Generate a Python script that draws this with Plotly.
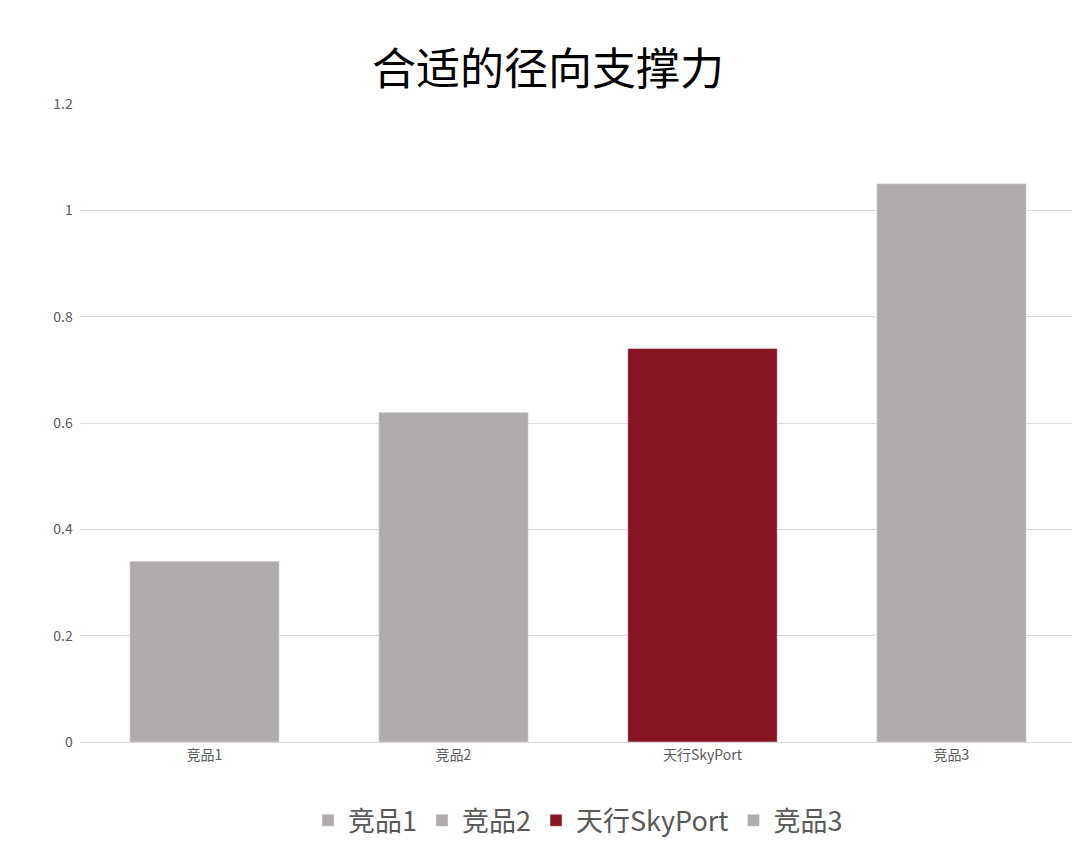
import plotly.graph_objects as go

categories = ["竞品1", "竞品2", "天行SkyPort", "竞品3"]
values = [0.34, 0.62, 0.74, 1.05]
colors = ["#AFACAB", "#AFACAB", "#861422", "#AFACAB"]

fig = go.Figure()
for c, v, col in zip(categories, values, colors):
    fig.add_trace(go.Bar(x=[c], y=[v], name=c, marker_color=col))

fig.update_layout(
    width=1080, height=849,
    barmode="relative", bargap=0.4,
    plot_bgcolor="white", paper_bgcolor="white",
    font=dict(family="Noto Sans CJK SC, Liberation Sans, sans-serif", color="#595959"),
    title=dict(text="合适的径向支撑力", x=0.5, xanchor="center", y=0.927, yanchor="middle",
               font=dict(size=44, color="#000000")),
    margin=dict(l=72, r=12, t=96, b=103),
    xaxis=dict(categoryorder="array", categoryarray=categories, showline=True,
               linecolor="#D9D9D9", tickfont=dict(size=14), ticks=""),
    yaxis=dict(range=[0, 1.2], dtick=0.2, tickformat="~g", gridcolor="#D9D9D9",
               zeroline=False, tickfont=dict(size=14), ticksuffix="  "),
    legend=dict(orientation="h", x=0.5, xanchor="center", y=-0.085, yanchor="top",
                font=dict(size=27, color="#595959"), itemwidth=30, traceorder="normal"),
)
fig.write_html("out.html")
